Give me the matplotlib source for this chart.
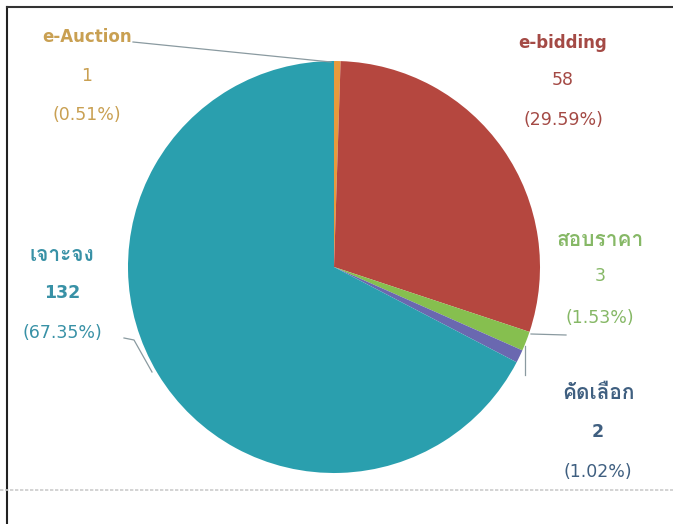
import matplotlib
matplotlib.use("Agg")
import matplotlib.pyplot as plt
from matplotlib import font_manager
from matplotlib.ft2font import FT2Font

# data
labels = ["e-Auction", "e-bidding", "สอบราคา", "คัดเลือก", "เจาะจง"]
counts = [1, 58, 3, 2, 132]
percents = ["0.51%", "29.59%", "1.53%", "1.02%", "67.35%"]

slice_colors = ["#e89a3c", "#b5473f", "#86bf4f", "#6a68b0", "#2a9fae"]
text_colors = ["#c9a052", "#a44a45", "#86b866", "#3f5f80", "#3891a6"]


def find_thai_font():
    # look for any installed font that has Thai glyphs
    for f in font_manager.fontManager.ttflist:
        try:
            if ord("ก") in FT2Font(f.fname).get_charmap():
                return f.name
        except Exception:
            pass
    return None


def main():
    thai = find_thai_font()
    fams = ["DejaVu Sans"] + ([thai] if thai else [])
    plt.rcParams["font.family"] = fams

    fig = plt.figure(figsize=(6.73, 5.24), dpi=100)
    ax = fig.add_axes([0, 0, 1, 1])

    H = 524
    cx, cy, r = 334, H - 267, 206
    ax.pie(counts, colors=slice_colors, startangle=90, counterclock=False,
           center=(cx, cy), radius=r, frame=True,
           wedgeprops=dict(linewidth=0))
    ax.set_xlim(0, 673)
    ax.set_ylim(0, 524)
    ax.set_aspect("equal")
    ax.axis("off")

    # label blocks: (x, y of name, y of count, y of pct) in pixel coords from top
    pos = [(87, 37, 76, 115),
           (563, 43, 80, 120),
           (600, 240, 276, 318),
           (598, 393, 432, 472),
           (62, 255, 293, 333)]
    for i, (x, y1, y2, y3) in enumerate(pos):
        c = text_colors[i]
        if i < 2:
            ax.text(x, H - y1, labels[i], color=c, fontsize=12, weight="bold",
                    ha="center", va="center")
        else:
            ax.text(x, H - y1, labels[i], color=c, fontsize=15, weight="bold",
                    ha="center", va="center")
        num_w = "bold" if i >= 3 else "normal"
        ax.text(x, H - y2, str(counts[i]), color=c, fontsize=12.5, weight=num_w,
                ha="center", va="center")
        ax.text(x, H - y3, "(" + percents[i] + ")", color=c, fontsize=12.5,
                ha="center", va="center")

    # leader lines
    lc = "#8a9aa0"
    ax.plot([133, 331], [H - 42, H - 62], color=lc, lw=0.9)
    ax.plot([531, 566], [H - 334, H - 335], color=lc, lw=0.9)
    ax.plot([525, 525], [H - 346, H - 375], color=lc, lw=0.9)
    ax.plot([124, 134, 152], [H - 338, H - 340, H - 372], color=lc, lw=0.9)

    # scanned frame
    ax.plot([7, 7], [0, H - 7], color="#222222", lw=1.5)
    ax.plot([7, 673], [H - 7, H - 7], color="#333333", lw=1.5)
    ax.plot([0, 673], [H - 490, H - 490], color="#cccccc", lw=1.2, ls=(0, (2, 1)))

    fig.savefig("out.png", dpi=100)


if __name__ == "__main__":
    main()
